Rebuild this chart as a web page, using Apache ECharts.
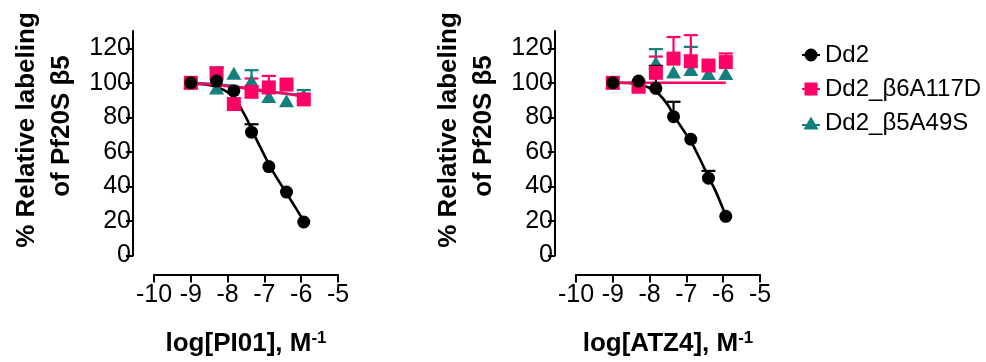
<!DOCTYPE html>
<html>
<head>
<meta charset="utf-8">
<script src="https://cdn.jsdelivr.net/npm/echarts@6/dist/echarts.min.js"></script>
<style>html,body{margin:0;padding:0;background:#fff}#c{width:986px;height:362px}</style>
</head>
<body>
<div id="c"></div>
<script>
// ---- data ----
const seriesNames = ['Dd2', 'Dd2_β6A117D', 'Dd2_β5A49S'];
const doseLog = [-9, -8.3, -7.83, -7.35, -6.88, -6.4, -5.93];
const xTicks = [-10, -9, -8, -7, -6, -5];
const yTicks = [0, 20, 40, 60, 80, 100, 120];

// Left panel: PI01
const pi01_Dd2 = [100, 101, 95.4, 71.4, 51.5, 36.7, 19.4];
const pi01_b6 = [100, 105.4, 87.7, 94.8, 97.3, 99, 90.4];
const pi01_b5 = [100, 97, 105.6, 101.2, 92, 89.6, 93];
const pi01_Dd2_err = [null, 108.8, null, 76, null, null, null];
const pi01_b6_err = [null, null, null, 102.5, 104, null, null];
const pi01_b5_err = [null, null, null, 107.3, null, null, 95.8];
const pi01_Dd2_fitX = [-9, -8.6, -8.3, -8, -7.75, -7.5, -7.35, -7, -6.75, -6.5, -6.25, -5.93];
const pi01_Dd2_fitY = [99.5, 99, 97.5, 94.5, 89, 80, 73, 58, 48, 39.5, 31, 20];
const pi01_b6_fitX = [-9, -8, -7, -5.93];
const pi01_b6_fitY = [100, 98, 95.5, 92];
const pi01_b5_fitX = [-9, -8, -7, -5.93];
const pi01_b5_fitY = [100, 98.5, 95, 93];

// Right panel: ATZ4
const atz4_Dd2 = [100, 101, 96.8, 80.4, 67.3, 44.8, 22.7];
const atz4_b6 = [100, 97.7, 105.8, 114, 112.5, 110, 112];
const atz4_b5 = [100, 99, 111.7, 106.3, 107.7, 105.4, 105.4];
const atz4_Dd2_err = [null, null, 109.8, 89, null, 49, null];
const atz4_b6_err = [null, null, 115.2, 126.5, 127.6, null, 117];
const atz4_b5_err = [null, null, 119.5, null, 120.8, null, null];
const atz4_Dd2_fitX = [-9, -8.5, -8.29, -8, -7.75, -7.5, -7.34, -7, -6.87, -6.5, -6.4, -6.2, -5.93];
const atz4_Dd2_fitY = [100, 99.8, 99, 97, 93.5, 87, 81, 70, 66, 50, 45.5, 37, 23];
const atz4_b6_fitX = [-9, -5.93];
const atz4_b6_fitY = [100, 100];

// ---- styling ----
const FONT = 'Liberation Sans';
const colors = ['#000000', '#FF0066', '#13807F'];
const symbols = ['circle', 'rect', 'triangle'];
const symSizes = [13, 14, [15, 13]];
const zs = [6, 5, 4];

function pairs(xs, ys) { return xs.map((x, i) => [x, ys[i]]); }
function errPairs(xs, ys, ups) {
  const out = [];
  xs.forEach((x, i) => { if (ups[i] != null) out.push([x, ys[i], ups[i]]); });
  return out;
}
function errSeries(idx, k, data) {
  return {
    type: 'custom', xAxisIndex: idx, yAxisIndex: idx, z: zs[k], silent: true,
    data: data,
    renderItem: function (params, api) {
      const p = api.coord([api.value(0), api.value(1)]);
      const u = api.coord([api.value(0), api.value(2)]);
      const st = { stroke: colors[k], lineWidth: 2.2 };
      return { type: 'group', children: [
        { type: 'line', shape: { x1: p[0], y1: p[1], x2: u[0], y2: u[1] }, style: st },
        { type: 'line', shape: { x1: u[0] - 7, y1: u[1], x2: u[0] + 7, y2: u[1] }, style: st }
      ]};
    }
  };
}
function fitSeries(idx, k, xs, ys) {
  return { type: 'line', xAxisIndex: idx, yAxisIndex: idx, z: 2, smooth: 0.4, showSymbol: false, silent: true,
    data: pairs(xs, ys), lineStyle: { color: colors[k], width: 2.6 }, itemStyle: { color: colors[k] } };
}
function ptSeries(idx, k, ys) {
  return { type: 'scatter', name: seriesNames[k], xAxisIndex: idx, yAxisIndex: idx, z: zs[k] + 1,
    symbol: symbols[k], symbolSize: symSizes[k], data: pairs(doseLog, ys),
    itemStyle: { color: colors[k], opacity: 1 } };
}

const grids = [
  { left: 154, top: 31, width: 184, height: 225 },
  { left: 576, top: 31, width: 184, height: 225 }
];
const xNames = ['log[PI01], M', 'log[ATZ4], M'];

const xAxes = grids.map((g, i) => ({
  type: 'value', gridIndex: i, min: -10, max: -5, interval: 1, offset: 19,
  name: '{t|' + xNames[i] + '}{s|-1}', nameLocation: 'middle', nameGap: 55,
  nameTextStyle: { rich: {
    t: { fontFamily: FONT, fontSize: 26, fontWeight: 'bold', color: '#000' },
    s: { fontFamily: FONT, fontSize: 17, fontWeight: 'bold', color: '#000', padding: [0, 0, 12, 0] }
  } },
  axisLine: { show: true, onZero: false, lineStyle: { color: '#000', width: 2 } },
  axisTick: { show: true, length: 8, lineStyle: { color: '#000', width: 2 } },
  axisLabel: { fontFamily: FONT, fontSize: 25, color: '#000', margin: 8,
    formatter: v => (xTicks.indexOf(v) >= 0 ? String(v) : '') },
  splitLine: { show: false }
}));
const yAxes = grids.map((g, i) => ({
  type: 'value', gridIndex: i, min: 0, max: 130, interval: 20, offset: 21,
  axisLine: { show: true, lineStyle: { color: '#000', width: 2 } },
  axisTick: { show: true, length: 7, lineStyle: { color: '#000', width: 2 } },
  axisLabel: { fontFamily: FONT, fontSize: 25, color: '#000', margin: 2,
    formatter: v => (yTicks.indexOf(v) >= 0 ? String(v) : ''), showMaxLabel: false },
  splitLine: { show: false }
}));

const series = [
  fitSeries(0, 0, pi01_Dd2_fitX, pi01_Dd2_fitY),
  fitSeries(0, 2, pi01_b5_fitX, pi01_b5_fitY),
  fitSeries(0, 1, pi01_b6_fitX, pi01_b6_fitY),
  errSeries(0, 2, errPairs(doseLog, pi01_b5, pi01_b5_err)),
  errSeries(0, 1, errPairs(doseLog, pi01_b6, pi01_b6_err)),
  errSeries(0, 0, errPairs(doseLog, pi01_Dd2, pi01_Dd2_err)),
  ptSeries(0, 2, pi01_b5),
  ptSeries(0, 1, pi01_b6),
  ptSeries(0, 0, pi01_Dd2),

  fitSeries(1, 0, atz4_Dd2_fitX, atz4_Dd2_fitY),
  fitSeries(1, 1, atz4_b6_fitX, atz4_b6_fitY),
  errSeries(1, 2, errPairs(doseLog, atz4_b5, atz4_b5_err)),
  errSeries(1, 1, errPairs(doseLog, atz4_b6, atz4_b6_err)),
  errSeries(1, 0, errPairs(doseLog, atz4_Dd2, atz4_Dd2_err)),
  ptSeries(1, 2, atz4_b5),
  ptSeries(1, 1, atz4_b6),
  ptSeries(1, 0, atz4_Dd2)
];

const legendIcons = [
  'path://M0,6 L18,6 L18,8 L0,8 Z M2.5,7 A6.5,6.5 0 1,1 15.5,7 A6.5,6.5 0 1,1 2.5,7 Z',
  'path://M0,6 H18 V8 H0 Z M2.5,0.5 H15.5 V13.5 H2.5 Z',
  'path://M0,8 H18 V10 H0 Z M9,0.5 L16.5,13.5 L1.5,13.5 Z'
];

const yTitleFont = 'bold 26px "' + FONT + '"';
function yTitle(dx) {
  return [
    { type: 'text', x: 27 + dx, y: 130, rotation: Math.PI / 2,
      style: { text: '% Relative labeling', font: yTitleFont, fill: '#000', textAlign: 'center', textVerticalAlign: 'middle' } },
    { type: 'text', x: 62 + dx, y: 126, rotation: Math.PI / 2,
      style: { text: 'of Pf20S β5', font: yTitleFont, fill: '#000', textAlign: 'center', textVerticalAlign: 'middle' } }
  ];
}

const chart = echarts.init(document.getElementById('c'), null, { renderer: 'canvas' });
chart.setOption({
  animation: false,
  backgroundColor: '#fff',
  grid: grids,
  xAxis: xAxes,
  yAxis: yAxes,
  legend: {
    orient: 'vertical', left: 797, top: 38, itemWidth: 18, itemHeight: 14, itemGap: 10,
    selectedMode: false,
    textStyle: { fontFamily: FONT, fontSize: 24, color: '#000', padding: [0, 0, 0, 0] },
    data: seriesNames.map((n, k) => ({ name: n, icon: legendIcons[k], itemStyle: { color: colors[k] } }))
  },
  graphic: yTitle(0).concat(yTitle(422)),
  series: series
});
</script>
</body>
</html>
